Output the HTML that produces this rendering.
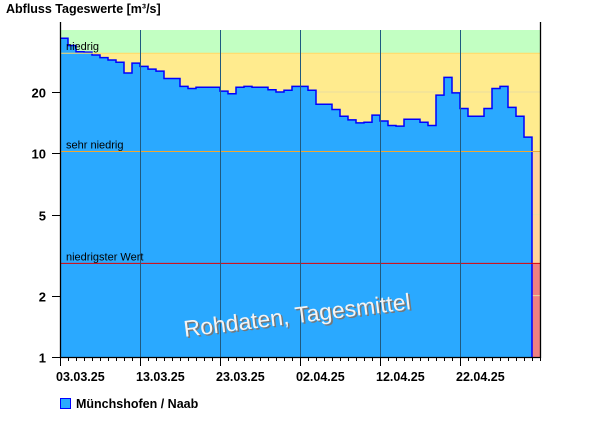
<!DOCTYPE html>
<html><head><meta charset="utf-8"><style>
html,body{margin:0;padding:0;background:#fff;}
svg{display:block;font-family:"Liberation Sans",Arial,sans-serif;}
</style></head><body>
<svg id="chart" width="600" height="426" viewBox="0 0 600 426">
<text x="6" y="13" font-size="12.5" font-weight="bold" fill="#000">Abfluss Tageswerte [m³/s]</text>
<g id="bands"></g>
<g id="marks"></g>
<g id="grid"></g>
<g id="labels"></g>
<g id="axes"></g>
<g transform="translate(298,323) rotate(-7)">
<text x="1.5" y="1.5" text-anchor="middle" font-size="23" fill="#777">Rohdaten, Tagesmittel</text>
<text x="0" y="0" text-anchor="middle" font-size="23" fill="#f4f4f4">Rohdaten, Tagesmittel</text>
</g>
<rect x="60.5" y="398.5" width="10" height="10" fill="#2aa9ff" stroke="#0000ff"/>
<text x="76" y="408" font-size="12.5" font-weight="bold">Münchshofen / Naab</text>
</svg>
<script>
const values = [36.7,33.8,31.5,31.4,30.4,29.5,28.7,28.0,24.8,27.7,26.7,25.9,25.3,23.3,23.3,21.3,20.8,21.1,21.1,21.1,20.2,19.6,21.1,21.3,21.1,21.1,20.5,20.0,20.4,21.3,21.3,20.4,17.4,17.4,16.4,15.2,14.6,14.1,14.2,15.4,14.4,13.7,13.6,14.7,14.7,14.2,13.7,19.3,23.6,19.8,16.6,15.2,15.2,16.6,20.8,21.3,16.8,15.2,12.0];
const yTicks = [1,2,5,10,20];
const xLabels = ["03.03.25","13.03.25","23.03.25","02.04.25","12.04.25","22.04.25"];
const thresholds = [40.3,31.0,10.2,2.88,1];
const thresholdNames = ["niedrig","sehr niedrig","niedrigster Wert"];
const nDays = 60;

const NS="http://www.w3.org/2000/svg";
const X0=60, X1=540, Y0=357;
const dayW=(X1-X0)/nDays;
function x(d){return X0+d*dayW;}
function y(v){return Y0-203.7*Math.log10(v);}
function mk(tag,attrs,parent){const e=document.createElementNS(NS,tag);for(const k in attrs)e.setAttribute(k,attrs[k]);parent.appendChild(e);return e;}
const bands=document.getElementById('bands'),marks=document.getElementById('marks'),grid=document.getElementById('grid'),labels=document.getElementById('labels'),axes=document.getElementById('axes');
const bandColors=["#c2ffc2","#ffeb8e","#ffd49c","#f08080"];
for(let i=0;i<4;i++){
  const r=mk('rect',{x:X0,y:y(thresholds[i]),width:X1-X0,height:y(thresholds[i+1])-y(thresholds[i]),fill:bandColors[i]},bands);
  
  
}
yTicks.forEach(t=>{ if(t>1){const l=mk('line',{x1:X0,x2:X1,y1:y(t),y2:y(t),stroke:'#e8dca0','stroke-width':1},bands);
  
  }});
// area
let p="M"+x(0)+","+Y0;
values.forEach((v,i)=>{p+=" L"+x(i)+","+y(v)+" L"+x(i+1)+","+y(v);});
const pf=p+" L"+x(values.length)+","+Y0+" Z";
const area=mk('path',{d:pf,fill:'#2aa9ff'},marks);


const line=mk('path',{d:p.replace(/^M[^L]*L/,"M")+" L"+x(values.length)+","+Y0,fill:'none',stroke:'#0000ff','stroke-width':1.5},marks);


// threshold lines
const tcol=["#ffd966","#f0a830","#e00000"];
for(let i=0;i<3;i++){
  const yy=y(thresholds[i+1]);
  const l=mk('line',{x1:X0,x2:X1,y1:yy,y2:yy,stroke:tcol[i],'stroke-width':1},grid);
  
  
  const t=mk('text',{x:66,y:yy-3,'font-size':11,fill:'#000'},labels);
  t.textContent=thresholdNames[i];
  
  
}
// vertical grid + x labels
xLabels.forEach((s,i)=>{
  const xx=x(i*10)+0.5;
  if(i>0){const g=mk('line',{x1:xx,x2:xx,y1:y(thresholds[0]),y2:Y0,stroke:'#1f5a80','stroke-width':1},grid);
    
    }
  const t=mk('text',{x:x(i*10)-4,y:381,'font-size':12.5,'font-weight':'bold'},axes);
  t.textContent=s;
  
  
});
for(let d=0;d<=nDays;d++){
  const xx=x(d)+0.5;
  const tk=mk('line',{x1:xx,x2:xx,y1:Y0,y2:Y0+(d%10==0&&d<60?9:4),stroke:'#000','stroke-width':1},axes);
  
  
}
yTicks.forEach(t=>{
  const yy=Math.round(y(t))+0.5;
  const tk=mk('line',{x1:52,x2:X0,y1:yy,y2:yy,stroke:'#000'},axes);
  
  
  const tx=mk('text',{x:46,y:yy+5,'text-anchor':'end','font-size':13,'font-weight':'bold'},axes);
  tx.textContent=t;
  
  
});
const ax=mk('path',{d:"M60.5,22 V357.5 H540.5 V22",fill:'none',stroke:'#000','stroke-width':1.3},axes);


</script>
</body></html>
